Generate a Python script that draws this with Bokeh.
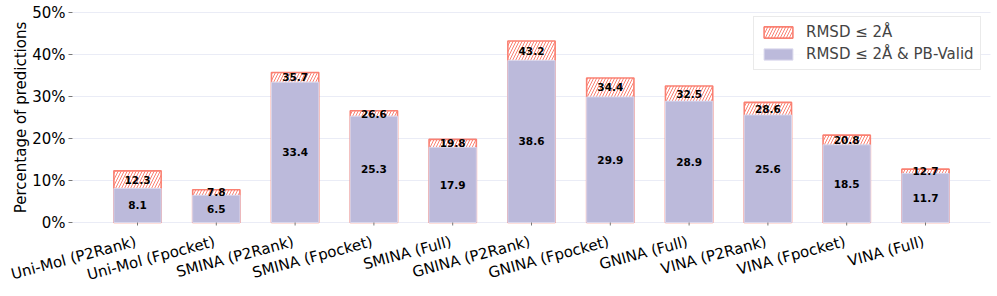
import math
from bokeh.plotting import figure
from bokeh.models import ColumnDataSource, Range1d, Legend, LegendItem
from bokeh.core.properties import value
from bokeh.embed import file_html
from bokeh.resources import INLINE

categories = ["Uni-Mol (P2Rank)", "Uni-Mol (Fpocket)", "SMINA (P2Rank)", "SMINA (Fpocket)",
              "SMINA (Full)", "GNINA (P2Rank)", "GNINA (Fpocket)", "GNINA (Full)",
              "VINA (P2Rank)", "VINA (Fpocket)", "VINA (Full)"]
rmsd_ok = [12.3, 7.8, 35.7, 26.6, 19.8, 43.2, 34.4, 32.5, 28.6, 20.8, 12.7]
rmsd_pb_valid = [8.1, 6.5, 33.4, 25.3, 17.9, 38.6, 29.9, 28.9, 25.6, 18.5, 11.7]
y_ticks = [0, 10, 20, 30, 40, 50]
y_tick_labels = ["0%", "10%", "20%", "30%", "40%", "50%"]
y_title = "Percentage of predictions"

# ---- layout (pixels); the frame covers the whole canvas so that nothing is clipped ----
W, H = 997, 296
AX_L, AX_R = 72, 990          # screen x of the plotting area edges
AX_T, AX_B = 12, 222          # screen y of the 50 % and 0 % lines
X_LO, X_HI = -0.825, 10.825   # data x at AX_L / AX_R
Y_LO, Y_HI = 0, 50
ux = (AX_R - AX_L) / (X_HI - X_LO)     # px per x unit
uy = (AX_B - AX_T) / (Y_HI - Y_LO)     # px per y unit
x_range = Range1d(X_LO - AX_L / ux, X_HI + (W - AX_R) / ux)
y_range = Range1d(Y_LO - (H - AX_B) / uy, Y_HI + AX_T / uy)

xs = list(range(len(categories)))
n = len(xs)
src = ColumnDataSource(dict(
    x=xs,
    total=rmsd_ok,
    valid=rmsd_pb_valid,
    total_y=[(a + b) / 2 for a, b in zip(rmsd_ok, rmsd_pb_valid)],
    valid_y=[b / 2 for b in rmsd_pb_valid],
    total_txt=[f"{v:.1f}" for v in rmsd_ok],
    valid_txt=[f"{v:.1f}" for v in rmsd_pb_valid],
))
xlab_src = ColumnDataSource(dict(
    x=xs, cat=categories,
    y0=[Y_LO] * n,
    y1=[Y_LO - 3 / uy] * n,
    ylab=[Y_LO - 10 / uy] * n,
))
ytick_src = ColumnDataSource(dict(
    y=y_ticks, lab=y_tick_labels,
    gx0=[X_LO] * len(y_ticks), gx1=[X_HI] * len(y_ticks),
    tx0=[X_LO - 4 / ux] * len(y_ticks),
    tlab=[X_LO - 7 / ux] * len(y_ticks),
))

FONT = "DejaVu Sans"
p = figure(width=W, height=H, output_backend="svg", toolbar_location=None,
           x_range=x_range, y_range=y_range, min_border=0)
p.outline_line_color = None
p.background_fill_color = "white"
p.xaxis.visible = False
p.yaxis.visible = False
p.xgrid.visible = False
p.ygrid.visible = False

# horizontal grid lines, y ticks, y tick labels
p.segment(x0="gx0", y0="y", x1="gx1", y1="y", source=ytick_src,
          line_color="#eaecf6", line_width=1)
p.segment(x0="tx0", y0="y", x1="gx0", y1="y", source=ytick_src,
          line_color="#777777", line_width=1)
p.text(x="tlab", y="y", text="lab", source=ytick_src, text_align="right",
       text_baseline="middle", text_font=value(FONT), text_font_size="15px",
       text_color="black")

# y title
p.text(x=[X_LO - (AX_L - 20) / ux], y=[(Y_LO + Y_HI) / 2], text=[y_title],
       angle=math.pi / 2, text_align="center", text_baseline="middle",
       text_font=value(FONT), text_font_size="15px", text_color="black")

# bars
r_hatch = p.vbar(x="x", top="total", bottom=0, width=0.6, source=src,
                 fill_color="white", line_color="#fa8072", line_width=1.6,
                 hatch_pattern="/", hatch_color="#fa8072", hatch_scale=6, hatch_weight=1)
r_valid = p.vbar(x="x", top="valid", bottom=0, width=0.6, source=src,
                 fill_color="#bcbadb", line_color="#d9d7ec", line_width=1)

p.text(x="x", y="valid_y", text="valid_txt", source=src, text_align="center",
       text_baseline="middle", text_font=value(FONT), text_font_style="bold",
       text_font_size="10.5px", text_color="black")
p.text(x="x", y="total_y", text="total_txt", source=src, text_align="center",
       text_baseline="middle", text_font=value(FONT), text_font_style="bold",
       text_font_size="10.5px", text_color="black")

# x ticks and rotated category labels
p.segment(x0="x", y0="y0", x1="x", y1="y1", source=xlab_src,
          line_color="#777777", line_width=1)
p.text(x="x", y="ylab", text="cat", source=xlab_src, angle=math.radians(15),
       text_align="right", text_baseline="top", x_offset=-4,
       text_font=value(FONT), text_font_size="15px", text_color="black")

legend = Legend(items=[LegendItem(label="RMSD ≤ 2Å", renderers=[r_hatch]),
                       LegendItem(label="RMSD ≤ 2Å & PB-Valid", renderers=[r_valid])],
                location=(753, 226), margin=0, padding=6, spacing=4,
                glyph_width=36, glyph_height=14, label_height=16, label_standoff=10,
                label_text_font=FONT, label_text_font_size="15px",
                border_line_color="#d5d5d5", border_line_width=1,
                background_fill_color="white", background_fill_alpha=0.85)
p.add_layout(legend)

open("out.html", "w").write(file_html(p, INLINE))
